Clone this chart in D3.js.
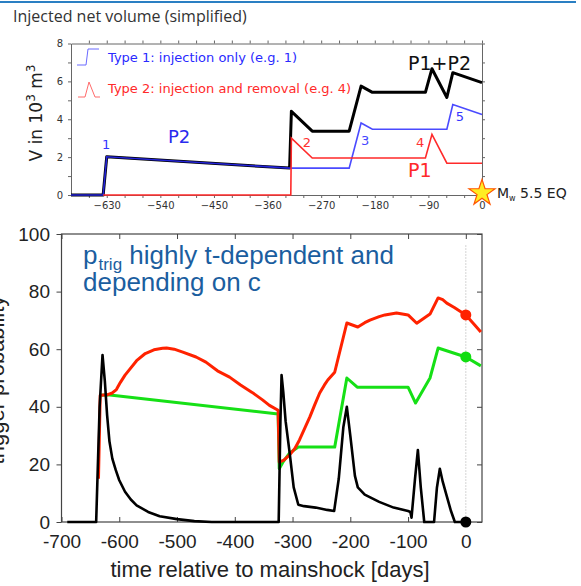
<!DOCTYPE html>
<html>
<head>
<meta charset="utf-8">
<script src="https://cdn.jsdelivr.net/npm/d3@7"></script>
<style>
  body { margin: 0; background: #fff; }
  svg { display: block; }
</style>
</head>
<body>
<div id="chart"></div>
<script>
// ---- top panel: injected net volume (10^3 m^3) ----
var type1Days = [-690, -636, -630, -323, -223, -203, -184, -59, -49, 0]
var type1Vals = [0, 0, 2.02, 1.42, 1.42, 3.8, 3.47, 3.47, 4.78, 4.25]
var type2Days = [-636, -321, -320, -285, -95, -84, -59, 0]
var type2Vals = [0, 0, 3.0, 1.95, 1.95, 3.2, 1.68, 1.68]
var sumDays = [-690, -636, -630, -323, -320, -285, -223, -203, -184, -95, -84, -59, -49, 0]
var sumVals = [0, 0, 2.02, 1.42, 4.42, 3.37, 3.37, 5.75, 5.42, 5.42, 6.67, 5.15, 6.46, 5.93]
var topXTicks = d3.range(-660, 1, 30)
var topYTicks = d3.range(0, 9, 1)
var eventLabels = [
  {t: "1", day: -631, v: 2.45, c: "#3535ff"},
  {t: "2", day: -294, v: 2.55, c: "#ff3030"},
  {t: "3", day: -196, v: 2.65, c: "#4545ff"},
  {t: "4", day: -104, v: 2.55, c: "#ff3030"},
  {t: "5", day: -37, v: 3.9, c: "#3535ff"}
]

// ---- bottom panel: trigger probability (%) ----
var blackDays = [-690, -640, -634, -629, -625, -621, -617, -612, -606, -600, -590, -580, -570, -550, -530, -500, -470, -440,
  -324, -321, -319, -316, -312, -305, -298, -290, -280, -260, -240, -228, -220, -212, -206, -200, -192, -187, -175, -150,
  -125, -100, -96, -94, -88, -83, -78, -72, -55, -50, -45, -40, -33, -26, -19, 0]
var blackVals = [0, 0, 40, 58, 49, 37, 28, 22, 18, 14.5, 10.5, 7.8, 5.8, 3.5, 2, 1, 0.3, 0,
  0, 35, 51, 45, 35, 24, 12, 6, 5.5, 5, 4.2, 3.8, 15, 33, 40, 30, 16, 12, 9.5, 7,
  5, 3.8, 3.5, 1.5, 15, 25, 12, 0, 0, 12, 18.5, 14, 9, 4, 0, 0]
var redDays = [-636, -633, -620, -612, -605, -598, -590, -582, -570, -555, -540, -525, -518, -505, -490, -467, -450, -430,
  -409, -390, -370, -352, -340, -325, -323, -315, -305, -296, -288, -279, -270, -262, -253, -245, -239, -227, -206, -187,
  -175, -166, -150, -140, -120, -100, -85, -62, -48, -40, -33, -20, 0, 15, 26]
var redVals = [15, 44, 44.2, 44.8, 46, 48.5, 51, 53, 56, 58.5, 59.8, 60.3, 60.4, 60, 59, 57.3, 55.5, 52.5,
  50.3, 47.6, 45, 42.4, 40.5, 38.8, 20.8, 21.5, 23.3, 25.5, 28.5, 32.5, 36.5, 40.5, 44.8, 47.5, 49.3, 52, 69.1, 67.7,
  69.2, 70.1, 71.3, 71.9, 72.6, 71.9, 69, 72.2, 77.8, 77.2, 76, 74.5, 71.9, 68.5, 66]
var greenDays = [-633, -620, -325, -323, -316, -305, -290, -227, -206, -188, -100, -87, -62, -48, 0, 26]
var greenVals = [44, 44.2, 37.5, 18.5, 21, 24, 26, 26, 50, 46.8, 46.8, 41.3, 50, 60.4, 57.3, 54.2]
var botXTicks = [-700, -600, -500, -400, -300, -200, -100, 0]
var botYTicks = [0, 20, 40, 60, 80, 100]
var markerVals = [{v: 71.9, c: "#ff2200"}, {v: 57.3, c: "#11dd11"}, {v: 0, c: "#000"}]

var W = 581, H = 586
var svg = d3.select("#chart").append("svg").attr("width", W).attr("height", H)

// slide decoration
svg.append("line").attr("x1", 0).attr("x2", 576).attr("y1", 2).attr("y2", 2)
  .attr("stroke", "#2a7fc3").attr("stroke-width", 2)
svg.append("text").attr("x", 13).attr("y", 22).text("Injected net volume (simplified)")
  .style("font-family", "Open Sans, sans-serif").style("font-size", "16px").style("fill", "#333")

// ================= top chart =================
var xT = d3.scaleLinear().domain([-690, 0]).range([71, 482])
var yT = d3.scaleLinear().domain([0, 8]).range([195, 43.5])
var topG = svg.append("g")
var tf = "DejaVu Sans, sans-serif"

topG.append("g").attr("transform", "translate(0,195)")
  .call(d3.axisBottom(xT).tickValues(topXTicks).tickSizeInner(3).tickSizeOuter(0).tickPadding(4)
    .tickFormat(function (d) { return d % 90 === 0 ? d3.format("d")(d) : "" }))
topG.append("g").attr("transform", "translate(0,43.5)")
  .call(d3.axisTop(xT).tickValues(topXTicks).tickSizeInner(3).tickSizeOuter(0).tickFormat(""))
topG.append("g").attr("transform", "translate(71,0)")
  .call(d3.axisLeft(yT).tickValues(topYTicks).tickSizeInner(3).tickSizeOuter(0).tickPadding(5)
    .tickFormat(function (d) { return d % 2 === 0 ? d : "" }))
topG.append("g").attr("transform", "translate(482,0)")
  .call(d3.axisRight(yT).tickValues(topYTicks).tickSizeInner(3).tickSizeOuter(0).tickFormat(""))
topG.selectAll(".domain").attr("stroke", "#666")
topG.selectAll(".tick line").attr("stroke", "#666")
topG.selectAll(".tick text").style("font-family", tf).style("font-size", "10px").style("fill", "#333")

var lineT = d3.line().x(function (d) { return xT(d[0]) }).y(function (d) { return yT(d[1]) })
function pairs(a, b) { return a.map(function (d, i) { return [d, b[i]] }) }

topG.append("path").datum(pairs(sumDays, sumVals)).attr("d", lineT)
  .attr("fill", "none").attr("stroke", "#000").attr("stroke-width", 3).attr("stroke-linejoin", "round")
topG.append("path").datum(pairs(type1Days, type1Vals)).attr("d", lineT)
  .attr("fill", "none").attr("stroke", "#2a2aff").attr("stroke-width", 1.6).attr("stroke-opacity", 0.85)
topG.append("path").datum(pairs(type2Days, type2Vals)).attr("d", lineT)
  .attr("fill", "none").attr("stroke", "#ff2a2a").attr("stroke-width", 1.6)

// legend
topG.append("path").attr("d", "M77,65 L86,65 L88,49 L99,49").attr("fill", "none").attr("stroke", "#6a6aff").attr("stroke-width", 1)
topG.append("path").attr("d", "M78,97 L85,97 L89,82 L95,97 L100,97").attr("fill", "none").attr("stroke", "#ff6a6a").attr("stroke-width", 1)
topG.append("text").attr("x", 108).attr("y", 62).text("Type 1: injection only (e.g. 1)")
  .style("font-family", tf).style("font-size", "13px").style("fill", "#2a2aff")
topG.append("text").attr("x", 108).attr("y", 93).text("Type 2: injection and removal (e.g. 4)")
  .style("font-family", tf).style("font-size", "13px").style("fill", "#ff2a2a")

topG.selectAll(".evt").data(eventLabels).enter().append("text")
  .attr("x", function (d) { return xT(d.day) }).attr("y", function (d) { return yT(d.v) })
  .attr("text-anchor", "middle").text(function (d) { return d.t })
  .style("font-family", tf).style("font-size", "13px").style("fill", function (d) { return d.c })

topG.append("text").attr("x", 168).attr("y", 143).text("P2")
  .style("font-family", tf).style("font-size", "18px").style("fill", "#2a2aee")
topG.append("text").attr("x", 408).attr("y", 177).text("P1")
  .style("font-family", tf).style("font-size", "19px").style("fill", "#ff2a2a")
topG.append("text").attr("x", 408).attr("y", 70).text("P1+P2")
  .style("font-family", tf).style("font-size", "19px").style("fill", "#111")

var vlab = topG.append("text").attr("transform", "translate(42,113) rotate(-90)").attr("text-anchor", "middle")
  .style("font-family", tf).style("font-size", "17px").style("fill", "#222")
vlab.append("tspan").text("V in 10")
vlab.append("tspan").attr("dy", -7).style("font-size", "12px").text("3")
vlab.append("tspan").attr("dy", 7).text(" m")
vlab.append("tspan").attr("dy", -7).style("font-size", "12px").text("3")

topG.append("path").attr("d", d3.symbol().type(d3.symbolStar).size(210)())
  .attr("transform", "translate(" + xT(0) + ",193)")
  .attr("fill", "#ffee22").attr("stroke", "#ff5500").attr("stroke-width", 1.2)
var eq = topG.append("text").attr("x", 497).attr("y", 198)
  .style("font-family", tf).style("font-size", "14px").style("fill", "#222")
eq.append("tspan").text("M")
eq.append("tspan").attr("dy", 3).style("font-size", "8px").text("w")
eq.append("tspan").attr("dy", -3).text(" 5.5 EQ")

// ================= bottom chart =================
var xB = d3.scaleLinear().domain([-700, 28]).range([61.5, 482])
var yB = d3.scaleLinear().domain([0, 100]).range([522, 234])
var bot = svg.append("g")
var bf = "Liberation Sans, Arial, sans-serif"

bot.append("rect").attr("x", 61.5).attr("y", 234).attr("width", 482 - 61.5).attr("height", 522 - 234)
  .attr("fill", "none").attr("stroke", "#444").attr("stroke-width", 1.2)

bot.append("g").attr("transform", "translate(0,522)")
  .call(d3.axisBottom(xB).tickValues(botXTicks).tickSizeInner(-5).tickSizeOuter(0).tickPadding(12.5).tickFormat(d3.format("d")))
bot.append("g").attr("transform", "translate(0,234)")
  .call(d3.axisTop(xB).tickValues(botXTicks).tickSizeInner(-5).tickSizeOuter(0).tickFormat(""))
bot.append("g").attr("transform", "translate(61.5,0)")
  .call(d3.axisLeft(yB).tickValues(botYTicks).tickSizeInner(5).tickSizeOuter(0).tickPadding(6.5))
bot.append("g").attr("transform", "translate(482,0)")
  .call(d3.axisRight(yB).tickValues(botYTicks).tickSizeInner(-5).tickSizeOuter(0).tickFormat(""))
bot.selectAll(".domain").remove()
bot.selectAll(".tick line").attr("stroke", "#444")
bot.selectAll(".tick text").style("font-family", bf).style("font-size", "19px").style("fill", "#222")
bot.selectAll(".tick text").text(function () { return this.textContent.replace("\u2212", "-") })

// dotted zero line
bot.append("line").attr("x1", xB(0)).attr("x2", xB(0)).attr("y1", yB(96)).attr("y2", yB(0))
  .attr("stroke", "#aaa").attr("stroke-width", 1).attr("stroke-dasharray", "1,2")

var lineB = d3.line().x(function (d) { return xB(d[0]) }).y(function (d) { return yB(d[1]) })
bot.append("path").datum(pairs(greenDays, greenVals)).attr("d", lineB)
  .attr("fill", "none").attr("stroke", "#16e016").attr("stroke-width", 3).attr("stroke-linejoin", "round")
bot.append("path").datum(pairs(redDays, redVals)).attr("d", lineB)
  .attr("fill", "none").attr("stroke", "#ff2200").attr("stroke-width", 3).attr("stroke-linejoin", "round")
bot.append("path").datum(pairs(blackDays, blackVals)).attr("d", lineB)
  .attr("fill", "none").attr("stroke", "#000").attr("stroke-width", 2.6).attr("stroke-linejoin", "round")

bot.selectAll(".mk").data(markerVals).enter().append("circle")
  .attr("cx", xB(0)).attr("cy", function (d) { return yB(d.v) }).attr("r", 5.5)
  .attr("fill", function (d) { return d.c })

// annotation: p_trig as one text with a lowered subscript span
var ttl = bot.append("text").attr("x", 83).attr("y", 264)
  .style("font-family", bf).style("font-size", "26px").style("fill", "#1b5e9f")
ttl.append("tspan").text("p")
ttl.append("tspan").attr("dy", 6).attr("dx", 1).style("font-size", "17px").text("trig")
ttl.append("tspan").attr("dy", -6).text(" highly t-dependent and")
bot.append("text").attr("x", 83).attr("y", 291).text("depending on c")
  .style("font-family", bf).style("font-size", "26px").style("fill", "#1b5e9f")

bot.append("text").attr("x", 270).attr("y", 577).attr("text-anchor", "middle")
  .text("time relative to mainshock [days]")
  .style("font-family", bf).style("font-size", "22px").style("fill", "#222")
// axis title sits partly off the left edge, as in the source slide
bot.append("text").attr("transform", "translate(4,380) rotate(-90)").attr("text-anchor", "middle")
  .text("trigger probability")
  .style("font-family", bf).style("font-size", "22px").style("fill", "#222")
</script>
</body>
</html>
